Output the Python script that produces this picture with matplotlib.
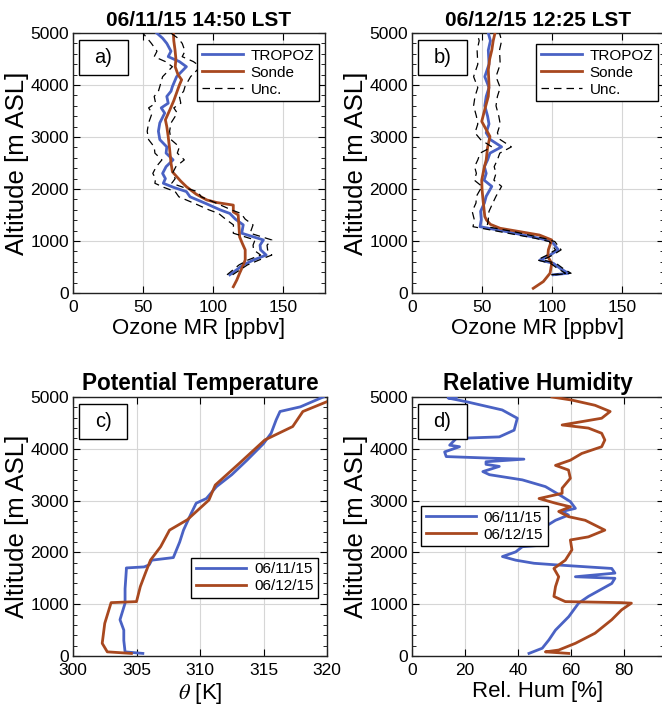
import matplotlib
matplotlib.use("Agg")
import matplotlib.pyplot as plt
from matplotlib.patches import Rectangle
from matplotlib.ticker import MultipleLocator
import numpy as np

plt.rcParams['font.family'] = ['Liberation Sans', 'DejaVu Sans']
plt.rcParams['mathtext.fontset'] = 'stix'

BLUE = '#4a62c4'
BROWN = '#a8481f'

# ---- Panel a: 06/11/15 14:50 LST ----
a_trop_alt = [350, 540, 635, 730, 830, 920, 1020, 1150, 1310, 1420, 1530, 1600, 1720, 1850, 1950, 2030, 2110,
              2200, 2300, 2430, 2560, 2690, 2810, 2950, 3110, 3270, 3460, 3560, 3650, 3780, 3880, 3970, 4160,
              4352, 4450, 4545, 4650, 4800, 4900, 5000]
a_trop_val = [112, 121.6, 129, 138, 134, 133.6, 136, 120.5, 121.6, 116, 112, 105, 95, 83.6, 81, 72, 64.5,
              66, 64, 66.5, 71.5, 66.5, 67, 62, 61, 62, 65.5, 63, 68, 67, 70, 71, 74,
              81, 76, 68, 70, 67, 64, 59.8]
a_unc = [2, 3, 4, 4, 5, 5, 6, 6, 7, 7, 8, 8, 8, 8, 8, 7, 6,
         7, 7, 7, 8, 8, 9, 8, 8, 8, 9, 9, 9, 9, 9, 9, 10,
         10, 10, 10, 10, 11, 11, 10]
a_sonde_alt = [120, 250, 380, 500, 635, 830, 950, 1080, 1300, 1500, 1560, 1690, 1740, 1790, 1900, 2045, 2150,
               2240, 2330, 2500, 2770, 3010, 3200, 3330, 3530, 3700, 3850, 4000, 4100, 4200, 4350, 4500, 4670,
               4850, 5000]
a_sonde_val = [114.5, 117, 119, 121, 123, 123, 121, 119, 118.5, 118, 114.5, 114.5, 102.6, 95.5, 88, 81, 77,
               74, 71, 70, 69, 68, 67, 66, 69.3, 72, 74, 76, 77.6, 75, 73, 73.5, 72.9,
               72, 71.7]

# ---- Panel b: 06/12/15 12:25 LST ----
b_trop_alt = [350, 380, 470, 570, 635, 730, 830, 990, 1050, 1180, 1275, 1410, 1570, 1730, 1860, 2050, 2170,
              2300, 2430, 2560, 2690, 2810, 2950, 3080, 3250, 3400, 3600, 3780, 3950, 4160, 4400, 4670, 4850, 5000]
b_trop_val = [100.9, 111.6, 106, 101, 91.4, 98.6, 104.5, 100, 91.4, 67.6, 48.6, 49.5, 49, 51.7, 53, 57, 51.5,
              53, 51.7, 54, 55.7, 64, 56, 53, 55, 54, 52, 53, 55, 52, 55, 54.5, 56, 54.5]
b_unc = [1.5, 2, 2, 2, 2, 2, 2, 2, 3, 5, 5, 5, 6, 6, 7, 7, 7,
         7, 7, 7, 7, 7, 7, 8, 8, 8, 8, 8, 8, 8, 8, 8, 8, 8]
b_sonde_alt = [90, 220, 380, 570, 700, 830, 1020, 1115, 1180, 1245, 1320, 1400, 1470, 1800, 2000, 2170, 2400,
               2560, 2800, 3010, 3300, 3530, 3780, 4000, 4290, 4500, 4670, 4850, 5000]
b_sonde_val = [86.6, 93.8, 98.6, 99.8, 97, 97.4, 99.8, 91, 77, 62.9, 56, 53.3, 52, 50.7, 50, 49.8, 51.5,
               53, 54, 55.7, 49.8, 52, 54.5, 55, 54.5, 55.5, 57, 58, 59.3]

# ---- Panel c: potential temperature ----
c_d1_alt = [50, 80, 300, 500, 700, 1020, 1300, 1660, 1700, 1720, 1760, 1850, 1900, 2200, 2430, 2750, 2950,
            3040, 3270, 3500, 3780, 4100, 4300, 4560, 4720, 4810, 5000]
c_d1_val = [305.5, 304.1, 304.0, 304.0, 303.7, 304.1, 304.1, 304.2, 304.2, 305.6, 306.0, 306.2, 307.9, 308.4,
            308.7, 309.3, 309.7, 310.5, 311.3, 312.5, 313.7, 315.0, 315.6, 316.0, 316.3, 317.9, 319.7]
c_d2_alt = [50, 80, 245, 630, 950, 1030, 1050, 1340, 1600, 1850, 2110, 2430, 2630, 3010, 3300, 3720, 4170,
            4430, 4720, 4910]
c_d2_val = [304.6, 302.7, 302.3, 302.5, 302.9, 303.0, 305.0, 305.3, 305.7, 306.1, 306.9, 307.6, 309.0,
            310.7, 311.2, 313.1, 315.1, 317.3, 318.1, 320.0]

# ---- Panel d: relative humidity ----
d_d1_alt = [50, 150, 310, 500, 760, 1020, 1150, 1400, 1500, 1530, 1600, 1690, 1760, 1790, 1850, 1920, 2010,
            2110, 2140, 2240, 2370, 2500, 2620, 2720, 2790, 2850, 2980, 3080, 3270, 3400, 3500, 3560, 3660,
            3700, 3750, 3800, 3820, 3850, 3940, 4040, 4070, 4200, 4230, 4360, 4590, 4750, 4910, 4980, 5000]
d_d1_val = [44.1, 49.1, 51.6, 54.1, 59.1, 62.8, 66.5, 75.3, 76.5, 61.6, 76.5, 75.3, 54.1, 46, 39.1, 34.1, 39.1,
            41.6, 49.1, 44.1, 49.1, 50.3, 54.1, 59, 56.6, 61.6, 59.7, 56.6, 50.3, 41.6, 29.2, 26.7, 32.9,
            27.9, 27.9, 42.2, 29.2, 12.9, 12.3, 17.9, 14.2, 16.7, 32.9, 38.5, 39.7, 34, 20.4, 13.6, 16.7]
d_d2_alt = [50, 80, 115, 245, 440, 700, 890, 1020, 1030, 1050, 1150, 1340, 1530, 1690, 1850, 2050, 2240,
            2300, 2430, 2620, 2690, 2790, 2880, 2950, 3040, 3140, 3240, 3430, 3590, 3680, 3780, 3910, 4040,
            4170, 4300, 4400, 4460, 4590, 4720, 4840, 4940, 5000]
d_d2_val = [59.1, 50.3, 55.3, 61.6, 69, 75.3, 79, 82.7, 79, 57.8, 53.5, 54.1, 55.3, 53.5, 57.8, 60.3, 59.7,
            66.5, 72.7, 65.3, 59, 55.3, 59.7, 54.1, 47.9, 56.6, 56.6, 59.7, 59, 54.1, 59.7, 64, 71.5,
            72.7, 71.5, 66.5, 56.6, 71.5, 74.7, 69, 60.3, 52.8]

fig = plt.figure(figsize=(6.62, 7.12), dpi=100)

W = 662.0
H = 712.0
def pos(l, r, t, b):
    return [l / W, 1 - b / H, (r - l) / W, (b - t) / H]

ax_a = fig.add_axes(pos(73, 325, 33, 293))
ax_b = fig.add_axes(pos(412, 664, 33, 293))
ax_c = fig.add_axes(pos(73, 327, 397, 656))
ax_d = fig.add_axes(pos(412, 664, 397, 656))

TICK_FS = 12.5
LABEL_FS = 16
YLABEL_FS = 18.5

def style(ax, xlim, xticks):
    ax.set_xlim(*xlim)
    ax.set_ylim(0, 5000)
    ax.set_xticks(xticks)
    ax.set_yticks([0, 1000, 2000, 3000, 4000, 5000])
    ax.yaxis.set_minor_locator(MultipleLocator(200))
    ax.tick_params(which='both', direction='in', top=True, right=True, labelsize=TICK_FS)
    ax.tick_params(which='major', length=5, width=0.8, pad=3)
    ax.tick_params(axis='x', which='major', pad=5)
    ax.tick_params(which='minor', length=3, width=0.6)
    ax.grid(True, which='major', color='#d6d6d6', linewidth=0.8)
    ax.set_axisbelow(True)
    for s in ax.spines.values():
        s.set_linewidth(1.0)
        s.set_color('#222222')
    ax.set_ylabel('Altitude [m ASL]', fontsize=YLABEL_FS, labelpad=1)

def label_box(ax, txt, x0, y0, w, h):
    ax.add_patch(Rectangle((x0, y0), w, h, transform=ax.transAxes, fill=True,
                           facecolor='white', edgecolor='black', linewidth=1.0, zorder=5))
    ax.text(x0 + w / 2, y0 + h / 2, txt, transform=ax.transAxes, ha='center', va='center',
            fontsize=14.5, zorder=6)

def legend(ax, loc, anchor, hl):
    ax.legend(loc=loc, bbox_to_anchor=anchor, fontsize=11, frameon=True,
              fancybox=False, edgecolor='black', framealpha=1, handlelength=hl,
              borderpad=0.3, labelspacing=0.2, handletextpad=0.5, borderaxespad=0)

lw = 2.0
# Panel a
aa = np.array(a_trop_alt); av = np.array(a_trop_val); au = np.array(a_unc)
ax_a.plot(av, aa, color=BLUE, lw=lw, label='TROPOZ', zorder=3)
ax_a.plot(a_sonde_val, a_sonde_alt, color=BROWN, lw=lw, label='Sonde', zorder=3)
ax_a.plot(av - au, aa, color='black', lw=0.9, ls=(0, (6, 4)), label='Unc.', zorder=4)
ax_a.plot(av + au, aa, color='black', lw=0.9, ls=(0, (6, 4)), zorder=4)
style(ax_a, (0, 180), [0, 50, 100, 150])
ax_a.set_xlabel('Ozone MR [ppbv]', fontsize=LABEL_FS, labelpad=2)
ax_a.set_title('06/11/15 14:50 LST', fontsize=15, fontweight='bold', pad=5)
legend(ax_a, 'upper right', (0.976, 0.958), 2.7)
label_box(ax_a, 'a)', 0.024, 0.838, 0.194, 0.135)

# Panel b
ba = np.array(b_trop_alt); bv = np.array(b_trop_val); bu = np.array(b_unc)
ax_b.plot(bv, ba, color=BLUE, lw=lw, label='TROPOZ', zorder=3)
ax_b.plot(b_sonde_val, b_sonde_alt, color=BROWN, lw=lw, label='Sonde', zorder=3)
ax_b.plot(bv - bu, ba, color='black', lw=0.9, ls=(0, (6, 4)), label='Unc.', zorder=4)
ax_b.plot(bv + bu, ba, color='black', lw=0.9, ls=(0, (6, 4)), zorder=4)
style(ax_b, (0, 180), [0, 50, 100, 150])
ax_b.set_xlabel('Ozone MR [ppbv]', fontsize=LABEL_FS, labelpad=2)
ax_b.set_title('06/12/15 12:25 LST', fontsize=15, fontweight='bold', pad=5)
legend(ax_b, 'upper right', (0.976, 0.958), 2.7)
label_box(ax_b, 'b)', 0.024, 0.838, 0.194, 0.135)

# Panel c
ax_c.plot(c_d1_val, c_d1_alt, color=BLUE, lw=lw, label='06/11/15', zorder=3)
ax_c.plot(c_d2_val, c_d2_alt, color=BROWN, lw=lw, label='06/12/15', zorder=3)
style(ax_c, (300, 320), [300, 305, 310, 315, 320])
ax_c.set_xlabel(r'$\theta$ [K]', fontsize=LABEL_FS, labelpad=2)
ax_c.set_title('Potential Temperature', fontsize=16.3, fontweight='bold', pad=5)
legend(ax_c, 'upper right', (0.965, 0.38), 3.3)
label_box(ax_c, 'c)', 0.024, 0.838, 0.19, 0.135)

# Panel d
ax_d.plot(d_d1_val, d_d1_alt, color=BLUE, lw=lw, label='06/11/15', zorder=3)
ax_d.plot(d_d2_val, d_d2_alt, color=BROWN, lw=lw, label='06/12/15', zorder=3)
style(ax_d, (0, 95), [0, 20, 40, 60, 80])
ax_d.set_xlabel('Rel. Hum [%]', fontsize=LABEL_FS, labelpad=2)
ax_d.set_title('Relative Humidity', fontsize=16.3, fontweight='bold', pad=5)
legend(ax_d, 'upper left', (0.036, 0.579), 3.3)
label_box(ax_d, 'd)', 0.024, 0.838, 0.194, 0.135)

fig.savefig('out.png', dpi=100)
